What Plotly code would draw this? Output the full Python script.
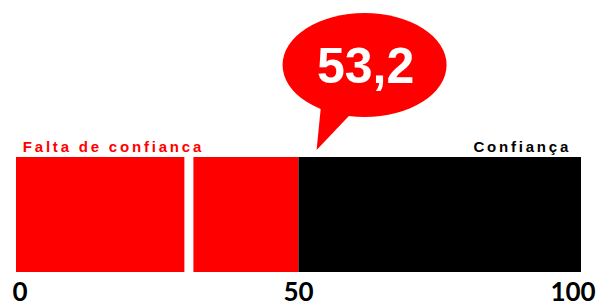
import plotly.graph_objects as go

# ---- data ----
segment_names = ["Falta de confianca", "Confiança"]
segment_start = [0, 50]
segment_end = [50, 100]
score = 53.2
score_label = "53,2"
gap_start = 29.8
gap_end = 31.4
tick_values = [0, 50, 100]
tick_labels = ["0", "50", "100"]

# ---- styling ----
RED = "#FF0000"
BLACK = "#000000"
W, H = 599, 302
PX0, PX100 = 16, 581          # pixel position of 0 and 100
ppu = (PX100 - PX0) / 100.0   # pixels per unit
x0 = -PX0 / ppu
x1 = (W - PX0) / ppu
plot_h = 272
bar_top, bar_bot = 157, 272

def px_to_x(px):
    return (px - PX0) / ppu

fig = go.Figure()
colors = [RED, BLACK]
for name, s, e, c in zip(segment_names, segment_start, segment_end, colors):
    fig.add_trace(go.Bar(
        orientation="h", y=[(bar_top + bar_bot) / 2], x=[e - s], base=[s],
        width=bar_bot - bar_top, marker=dict(color=c, line=dict(width=0)),
        name=name, showlegend=False, hoverinfo="skip"))
fig.add_trace(go.Bar(
    orientation="h", y=[(bar_top + bar_bot) / 2], x=[gap_end - gap_start], base=[gap_start],
    width=bar_bot - bar_top, marker=dict(color="white", line=dict(width=0)),
    showlegend=False, hoverinfo="skip"))

# speech bubble anchored on the score
tip_px = PX0 + score * ppu
fig.add_shape(type="circle", xref="x", yref="y",
              x0=px_to_x(tip_px - 34), x1=px_to_x(tip_px + 130), y0=13, y1=117,
              fillcolor=RED, line=dict(width=0), layer="above")
fig.add_shape(type="path", xref="x", yref="y",
              path=f"M {px_to_x(tip_px + 5)} 100 L {px_to_x(tip_px)} 150 L {px_to_x(tip_px + 38)} 110 Z",
              fillcolor=RED, line=dict(width=0), layer="above")
fig.add_annotation(x=px_to_x(tip_px + 49), y=66, xref="x", yref="y",
                   text=f"<b>{score_label}</b>", showarrow=False,
                   font=dict(family="Liberation Sans", size=50, color="white"))

fig.add_annotation(x=px_to_x(114), y=146, xref="x", yref="y", text=segment_names[0],
                   showarrow=False, xanchor="center",
                   font=dict(family="Liberation Sans", size=15, color=RED, weight="bold"))
fig.add_annotation(x=px_to_x(522), y=146, xref="x", yref="y", text=segment_names[1],
                   showarrow=False, xanchor="center",
                   font=dict(family="Liberation Sans", size=15, color=BLACK, weight="bold"))

fig.update_layout(
    width=W, height=H, margin=dict(l=0, r=0, t=0, b=H - plot_h),
    plot_bgcolor="white", paper_bgcolor="white", barmode="overlay",
    xaxis=dict(range=[x0, x1], tickvals=tick_values, ticktext=tick_labels,
               showgrid=False, zeroline=False, showline=False, ticks="",
               automargin=False, ticklabeloverflow="allow", ticklabelstandoff=2,
               tickfont=dict(family="Lato", size=26, color=BLACK, weight="bold")),
    yaxis=dict(range=[plot_h, 0], visible=False, showgrid=False, zeroline=False),
)

post = """
document.body.style.margin = '0';
document.body.style.overflow = 'hidden';
document.querySelectorAll('.annotation-text').forEach(function(t){
  var s = t.textContent;
  if (s.indexOf('53') === -1) { t.style.letterSpacing = '2.8px'; }
});
var shifts = {'0': 4, '100': -8};
document.querySelectorAll('.xtick text').forEach(function(t){
  var d = shifts[t.textContent];
  if (d) { t.setAttribute('x', parseFloat(t.getAttribute('x') || 0) + d); }
});
"""
fig.write_html("out.html", post_script=post, config={"displayModeBar": False})
